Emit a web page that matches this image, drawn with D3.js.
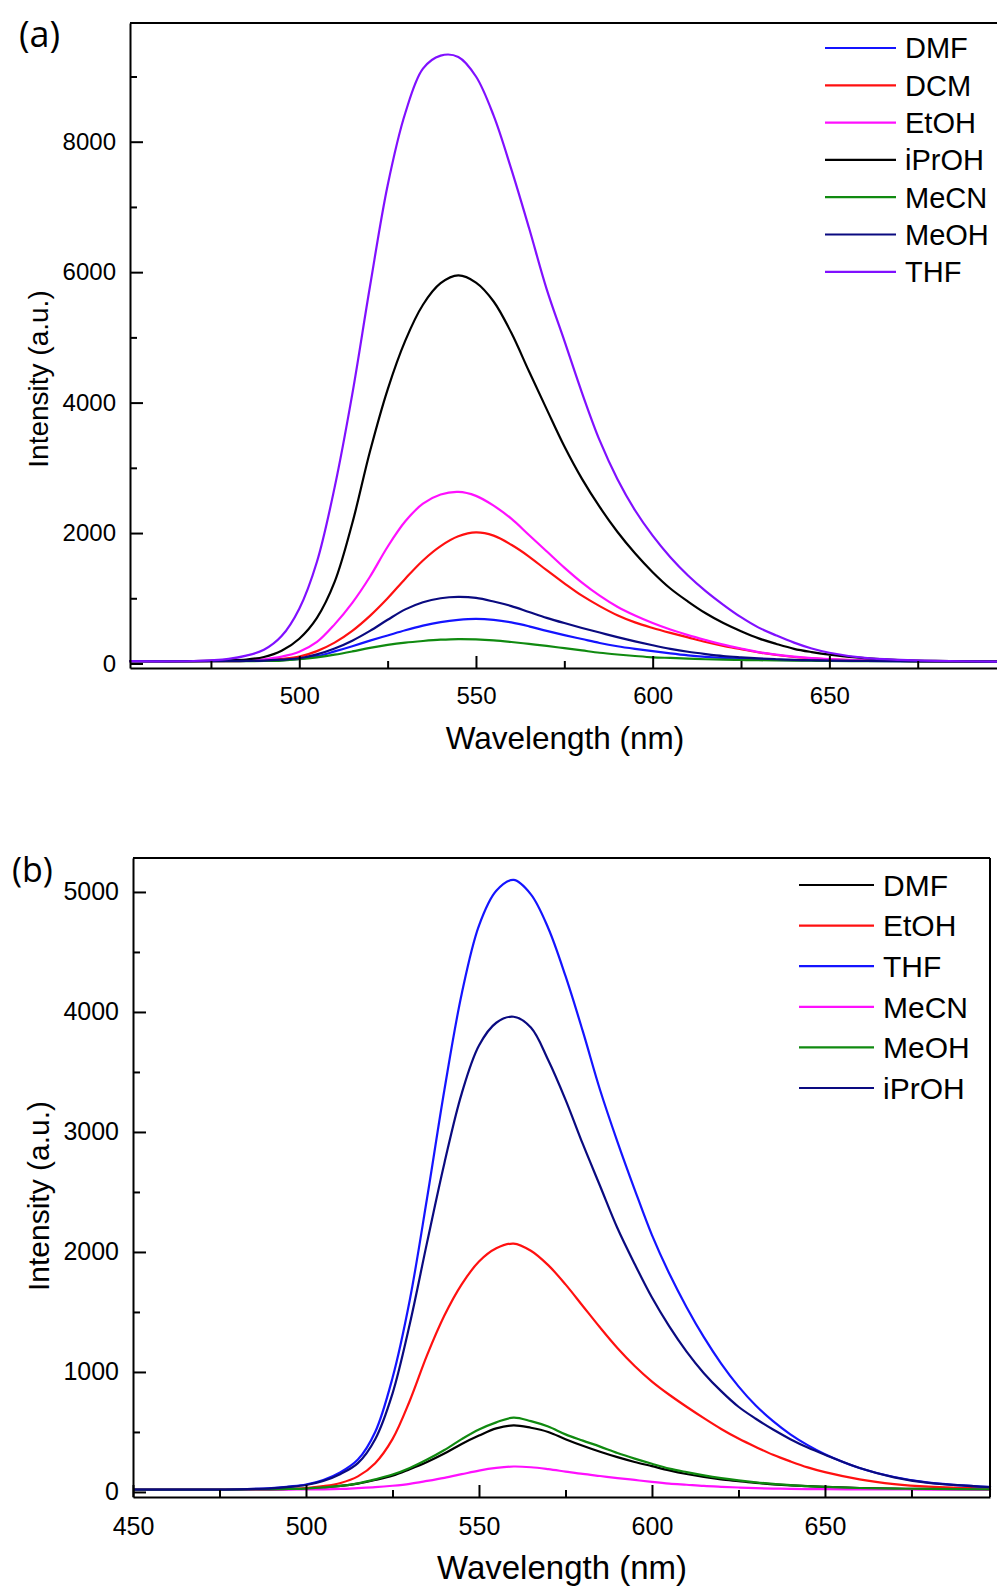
<!DOCTYPE html>
<html>
<head>
<meta charset="utf-8">
<script src="https://cdn.jsdelivr.net/npm/d3@7"></script>
<style>
  html, body { margin: 0; padding: 0; background: #fff; }
  svg { display: block; }
</style>
</head>
<body>
<svg id="chart" width="997" height="1589"></svg>
<script>
// ---- panel (a) data: emission spectra, intensity (a.u.) vs wavelength (nm)
const waveA = [452, 470, 480, 485, 490, 495, 500, 505, 510, 515, 520, 525, 530, 535, 540,
  545, 550, 555, 560, 565, 570, 575, 580, 585, 590, 595, 600, 605, 610, 615, 620, 625,
  630, 635, 640, 645, 650, 660, 670, 680, 698];
const dmfA = [35, 35, 37, 38, 42, 50, 72, 112, 185, 265, 350, 430, 510, 580, 635, 670, 685, 670, 630, 570,
  500, 435, 375, 315, 265, 225, 190, 155, 125, 103, 87, 74, 63, 56, 50, 46, 43, 38, 35, 32, 30];
const dcmA = [35, 35, 36, 40, 50, 70, 105, 190, 320, 500, 730, 1000, 1300, 1580, 1800, 1950, 2010, 1960, 1820, 1640,
  1430, 1230, 1040, 880, 740, 630, 545, 470, 400, 330, 270, 220, 170, 130, 100, 80, 62, 46, 38, 34, 30];
const etohA = [35, 35, 40, 45, 65, 105, 180, 330, 600, 930, 1330, 1790, 2180, 2450, 2590, 2630, 2570, 2420, 2220, 1970,
  1720, 1470, 1240, 1040, 870, 735, 620, 520, 435, 360, 290, 230, 175, 135, 105, 82, 66, 48, 40, 35, 30];
const iprohA = [35, 35, 48, 60, 100, 195, 380, 700, 1250, 2150, 3250, 4200, 4950, 5500, 5830, 5950, 5840, 5550, 5070, 4480,
  3900, 3330, 2830, 2400, 2020, 1690, 1400, 1150, 950, 770, 620, 495, 385, 300, 225, 175, 135, 82, 54, 40, 30];
const mecnA = [35, 35, 36, 37, 38, 45, 65, 95, 135, 185, 240, 285, 320, 345, 365, 375, 370, 355, 330, 300,
  270, 235, 200, 165, 138, 115, 95, 85, 75, 65, 58, 54, 50, 47, 45, 42, 40, 37, 35, 32, 30];
const meohA = [35, 35, 38, 40, 45, 60, 80, 140, 230, 350, 500, 670, 830, 940, 1000, 1020, 1005, 950, 880, 790,
  700, 620, 545, 475, 405, 340, 280, 225, 180, 145, 115, 95, 78, 65, 55, 50, 45, 40, 36, 33, 30];
const thfA = [35, 38, 70, 120, 210, 420, 840, 1560, 2700, 4130, 5780, 7330, 8440, 9120, 9320, 9300, 9000, 8400, 7580, 6680,
  5740, 4950, 4150, 3420, 2830, 2350, 1960, 1630, 1350, 1110, 900, 710, 550, 430, 320, 230, 165, 85, 55, 40, 30];

// ---- panel (b) data
const waveB = [450, 470, 480, 490, 495, 500, 505, 510, 515, 520, 525, 530, 535, 540, 545,
  550, 555, 560, 565, 570, 575, 580, 585, 590, 595, 600, 605, 610, 615, 620, 625, 630,
  635, 640, 645, 650, 660, 670, 680, 698];
const dmfB = [20, 20, 20, 22, 25, 28, 38, 50, 70, 100, 135, 190, 250, 320, 400, 470, 530, 555, 535, 500,
  440, 385, 335, 290, 250, 215, 180, 150, 125, 105, 90, 75, 64, 55, 48, 42, 33, 28, 25, 22];
const etohB = [20, 20, 20, 22, 25, 32, 48, 75, 130, 240, 440, 760, 1140, 1470, 1730, 1920, 2030, 2070, 2010, 1890,
  1730, 1550, 1370, 1200, 1050, 920, 810, 710, 615, 525, 445, 375, 310, 255, 205, 165, 105, 66, 44, 28];
const thfB = [20, 20, 22, 32, 45, 62, 100, 165, 270, 500, 950, 1600, 2450, 3350, 4150, 4720, 5010, 5100, 4980, 4700,
  4300, 3840, 3350, 2920, 2520, 2140, 1820, 1540, 1290, 1070, 880, 720, 590, 480, 390, 315, 200, 125, 78, 40];
const mecnB = [20, 20, 20, 20, 20, 21, 22, 25, 32, 40, 52, 68, 92, 118, 148, 178, 200, 212, 206, 190,
  170, 150, 133, 116, 100, 84, 70, 60, 50, 43, 37, 32, 28, 26, 24, 23, 22, 21, 20, 20];
const meohB = [20, 20, 20, 22, 25, 28, 38, 50, 72, 105, 145, 200, 270, 350, 440, 520, 580, 620, 590, 545,
  480, 428, 378, 325, 278, 235, 195, 165, 138, 115, 96, 80, 67, 57, 48, 42, 33, 28, 25, 22];
const iprohB = [20, 20, 22, 30, 42, 58, 92, 150, 240, 440, 820, 1400, 2080, 2740, 3320, 3720, 3910, 3960, 3870, 3600,
  3270, 2900, 2550, 2200, 1900, 1620, 1380, 1170, 990, 840, 710, 610, 520, 440, 370, 310, 200, 122, 75, 40];

// ticks
const xMajorA = [500, 550, 600, 650];
const xMinorA = [475, 525, 575, 625, 675];
const yMajorA = [0, 2000, 4000, 6000, 8000];
const yMinorA = [1000, 3000, 5000, 7000, 9000];
const xMajorB = [450, 500, 550, 600, 650];
const xMinorB = [475, 525, 575, 625, 675];
const yMajorB = [0, 1000, 2000, 3000, 4000, 5000];
const yMinorB = [500, 1500, 2500, 3500, 4500];

const BLUE = '#1414ff', RED = '#ff1010', MAGENTA = '#ff10ff', BLACK = '#000000',
      GREEN = '#108a10', NAVY = '#0a0a80', VIOLET = '#8010ff';

const FONT = '"Liberation Sans", Arial, sans-serif';
const svg = d3.select('#chart');
svg.append('rect').attr('width', 997).attr('height', 1589).attr('fill', '#fff');

function drawPanel(p) {
    const g = svg.append('g');

    const x = d3.scaleLinear().domain(p.xDomain).range([p.left, p.right]);
    const y = d3.scaleLinear().domain(p.yDomain).range([p.bottom, p.top]);

    // spectra
    const line = d3.line()
        .x((d, i) => x(p.waves[i]))
        .y(d => y(d))
        .curve(d3.curveCatmullRom.alpha(0.5));

    g.append('g')
        .selectAll('path')
        .data(p.series)
        .enter()
        .append('path')
        .attr('d', d => line(d.values))
        .attr('fill', 'none')
        .attr('stroke', d => d.color)
        .attr('stroke-width', 2.2)
        .attr('stroke-linejoin', 'round');

    // bottom axis (ticks point inward)
    const xAxis = g.append('g')
        .attr('transform', `translate(0,${p.bottom})`)
        .call(d3.axisBottom(x).tickValues(p.xMajor).tickFormat(d3.format('d'))
            .tickSizeInner(-12).tickSizeOuter(0).tickPadding(p.xPad));
    g.append('g')
        .attr('transform', `translate(0,${p.bottom})`)
        .call(d3.axisBottom(x).tickValues(p.xMinor).tickSizeInner(-7).tickSizeOuter(0).tickFormat(''))
        .call(a => a.select('.domain').remove());

    // left axis
    const yAxis = g.append('g')
        .attr('transform', `translate(${p.left},0)`)
        .call(d3.axisLeft(y).tickValues(p.yMajor).tickFormat(d3.format('d'))
            .tickSizeInner(-13).tickSizeOuter(0).tickPadding(14));
    g.append('g')
        .attr('transform', `translate(${p.left},0)`)
        .call(d3.axisLeft(y).tickValues(p.yMinor).tickSizeInner(-7).tickSizeOuter(0).tickFormat(''))
        .call(a => a.select('.domain').remove());

    [xAxis, yAxis].forEach(a => {
        a.attr('font-family', FONT).attr('font-size', p.tickFont);
        a.selectAll('text').attr('fill', '#000');
    });
    g.selectAll('.domain, .tick line').attr('stroke', '#000').attr('stroke-width', 2);

    // frame top / right
    g.append('line')
        .attr('x1', p.left).attr('x2', p.right)
        .attr('y1', p.top).attr('y2', p.top)
        .attr('stroke', '#000').attr('stroke-width', 2);
    g.append('line')
        .attr('x1', p.right).attr('x2', p.right)
        .attr('y1', p.top).attr('y2', p.bottom)
        .attr('stroke', '#000').attr('stroke-width', 2);

    // axis titles
    g.append('text')
        .attr('x', p.xTitle[0]).attr('y', p.xTitle[1])
        .attr('text-anchor', 'middle')
        .attr('font-family', FONT).attr('font-size', p.xTitleFont)
        .text('Wavelength (nm)');
    g.append('text')
        .attr('transform', `translate(${p.yTitle[0]},${p.yTitle[1]}) rotate(-90)`)
        .attr('text-anchor', 'middle')
        .attr('dy', '0.35em')
        .attr('font-family', FONT).attr('font-size', p.yTitleFont)
        .text('Intensity (a.u.)');

    // panel label
    g.append('text')
        .attr('x', p.label[0]).attr('y', p.label[1])
        .attr('font-family', '"Open Sans", sans-serif').attr('font-size', p.labelFont)
        .text(p.labelText);

    // legend
    const leg = g.append('g')
        .selectAll('g')
        .data(p.series)
        .enter()
        .append('g')
        .attr('transform', (d, i) => `translate(0,${p.legend.y0 + i * p.legend.step})`);
    leg.append('line')
        .attr('x1', p.legend.x1).attr('x2', p.legend.x2)
        .attr('stroke', d => d.color).attr('stroke-width', 2.2);
    leg.append('text')
        .attr('x', p.legend.tx)
        .attr('dy', '0.36em')
        .attr('font-family', FONT).attr('font-size', p.legend.font)
        .text(d => d.name);
}

drawPanel({
    left: 130, right: 999, top: 23, bottom: 668,
    xDomain: [452.1, 698], yDomain: [-69, 9820],
    waves: waveA,
    series: [
        { name: 'DMF', values: dmfA, color: BLUE },
        { name: 'DCM', values: dcmA, color: RED },
        { name: 'EtOH', values: etohA, color: MAGENTA },
        { name: 'iPrOH', values: iprohA, color: BLACK },
        { name: 'MeCN', values: mecnA, color: GREEN },
        { name: 'MeOH', values: meohA, color: NAVY },
        { name: 'THF', values: thfA, color: VIOLET }
    ],
    xMajor: xMajorA, xMinor: xMinorA, yMajor: yMajorA, yMinor: yMinorA,
    tickFont: 24, xPad: 19,
    xTitle: [565, 749], xTitleFont: 31.5,
    yTitle: [38, 379], yTitleFont: 28,
    label: [19, 47], labelFont: 36, labelText: '(a)',
    legend: { x1: 825, x2: 896, tx: 905, y0: 48, step: 37.3, font: 29 }
});

drawPanel({
    left: 133, right: 990, top: 858, bottom: 1497,
    xDomain: [450, 697.7], yDomain: [-42, 5283],
    waves: waveB,
    series: [
        { name: 'DMF', values: dmfB, color: BLACK },
        { name: 'EtOH', values: etohB, color: RED },
        { name: 'THF', values: thfB, color: BLUE },
        { name: 'MeCN', values: mecnB, color: MAGENTA },
        { name: 'MeOH', values: meohB, color: GREEN },
        { name: 'iPrOH', values: iprohB, color: NAVY }
    ],
    xMajor: xMajorB, xMinor: xMinorB, yMajor: yMajorB, yMinor: yMinorB,
    tickFont: 25, xPad: 20,
    xTitle: [562, 1579], xTitleFont: 33,
    yTitle: [38, 1196], yTitleFont: 30,
    label: [12, 882], labelFont: 34, labelText: '(b)',
    legend: { x1: 799, x2: 874, tx: 883, y0: 885, step: 40.6, font: 30 }
});
</script>
</body>
</html>
